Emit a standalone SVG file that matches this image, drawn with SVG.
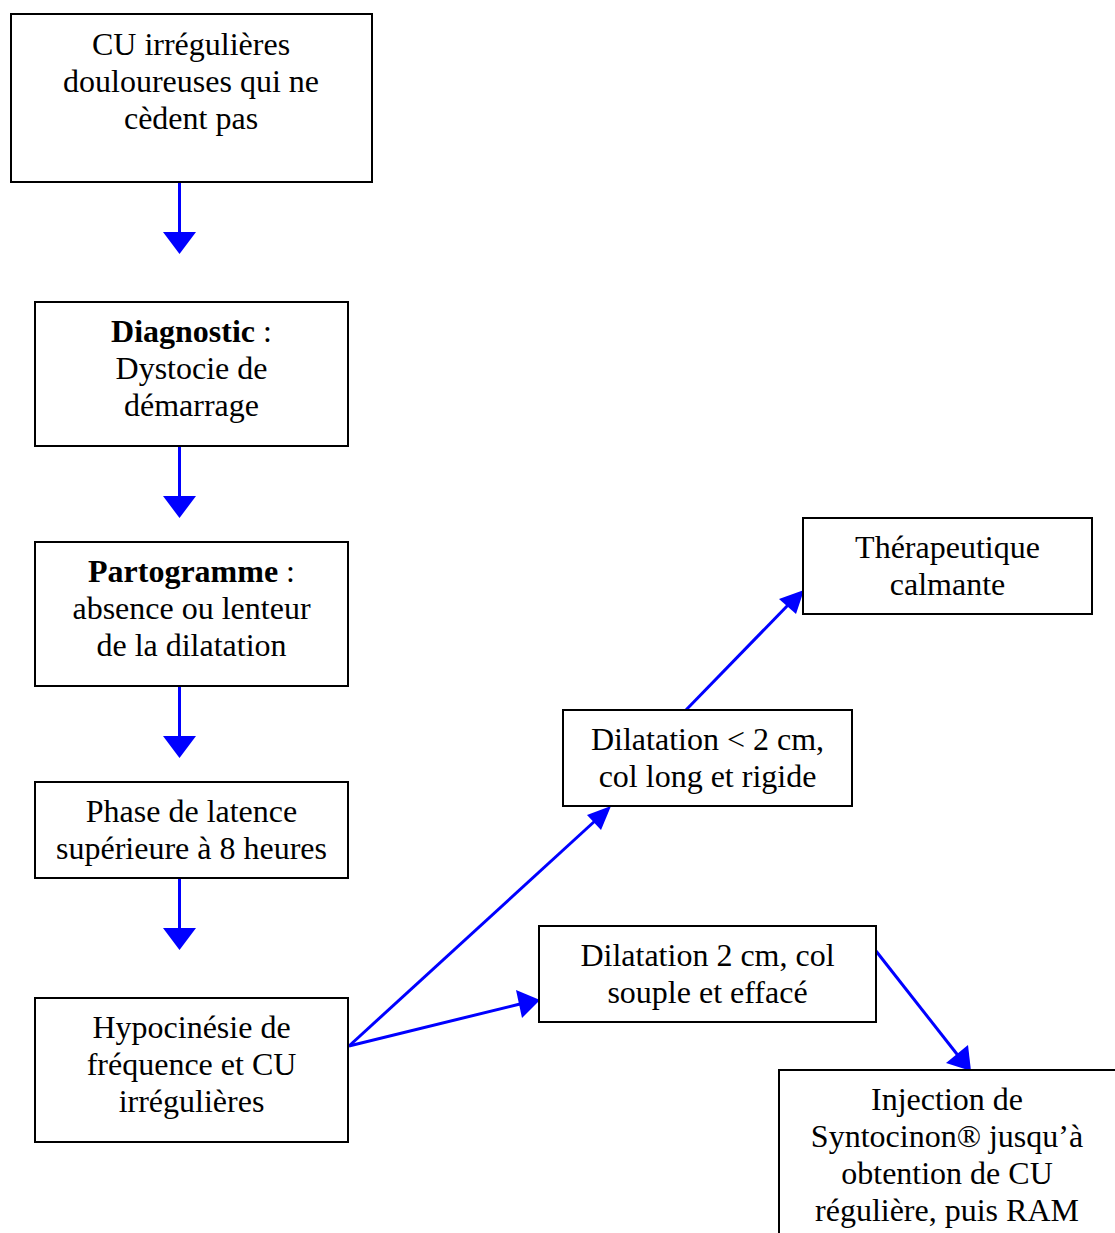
<svg xmlns="http://www.w3.org/2000/svg" width="1115" height="1233" viewBox="0 0 1115 1233">
  <style>
    .box { fill: #fff; stroke: #000; stroke-width: 2; }
    .lbl { font-family: "Liberation Serif", "Times New Roman", serif; font-size: 32px; fill: #000; text-anchor: middle; }
    .b { font-weight: bold; }
    .con { stroke: #0000ff; stroke-width: 3; fill: none; }
    .head { fill: #0000ff; }
  </style>
  <rect width="1115" height="1233" fill="#fff"/>

  <g id="connectors">
    <!-- vertical flow down the left column -->
    <line class="con" x1="179.5" y1="182" x2="179.5" y2="234"/>
    <polygon class="head" points="163,232 196,232 179.5,254"/>
    <line class="con" x1="179.5" y1="446" x2="179.5" y2="498"/>
    <polygon class="head" points="163,496 196,496 179.5,518"/>
    <line class="con" x1="179.5" y1="686" x2="179.5" y2="738"/>
    <polygon class="head" points="163,736 196,736 179.5,758"/>
    <line class="con" x1="179.5" y1="878" x2="179.5" y2="930"/>
    <polygon class="head" points="163,928 196,928 179.5,950"/>
    <!-- branches -->
    <line class="con" x1="349" y1="1046" x2="596" y2="820"/>
    <polygon class="head" points="611,806 601,830 587,815"/>
    <line class="con" x1="349" y1="1046" x2="520" y2="1004"/>
    <polygon class="head" points="540,1000 522,1018 516,990"/>
    <line class="con" x1="685" y1="711" x2="790" y2="603"/>
    <polygon class="head" points="804,590 796,614 779,599"/>
    <line class="con" x1="876" y1="951" x2="960" y2="1058"/>
    <polygon class="head" points="971,1071 946,1063 968,1045"/>
  </g>

  <g id="n1">
    <rect class="box" x="11" y="14" width="361" height="168"/>
    <text class="lbl" x="191" y="55">CU irrégulières</text>
    <text class="lbl" x="191" y="92">douloureuses qui ne</text>
    <text class="lbl" x="191" y="129">cèdent pas</text>
  </g>
  <g id="n2">
    <rect class="box" x="35" y="302" width="313" height="144"/>
    <text class="lbl" x="191.5" y="342"><tspan class="b">Diagnostic</tspan> :</text>
    <text class="lbl" x="191.5" y="379">Dystocie de</text>
    <text class="lbl" x="191.5" y="416">démarrage</text>
  </g>
  <g id="n3">
    <rect class="box" x="35" y="542" width="313" height="144"/>
    <text class="lbl" x="191.5" y="582"><tspan class="b">Partogramme</tspan> :</text>
    <text class="lbl" x="191.5" y="619">absence ou lenteur</text>
    <text class="lbl" x="191.5" y="656">de la dilatation</text>
  </g>
  <g id="n4">
    <rect class="box" x="35" y="782" width="313" height="96"/>
    <text class="lbl" x="191.5" y="822">Phase de latence</text>
    <text class="lbl" x="191.5" y="859">supérieure à 8 heures</text>
  </g>
  <g id="n5">
    <rect class="box" x="35" y="998" width="313" height="144"/>
    <text class="lbl" x="191.5" y="1038">Hypocinésie de</text>
    <text class="lbl" x="191.5" y="1075">fréquence et CU</text>
    <text class="lbl" x="191.5" y="1112">irrégulières</text>
  </g>
  <g id="n6">
    <rect class="box" x="803" y="518" width="289" height="96"/>
    <text class="lbl" x="947.5" y="558">Thérapeutique</text>
    <text class="lbl" x="947.5" y="595">calmante</text>
  </g>
  <g id="n7">
    <rect class="box" x="563" y="710" width="289" height="96"/>
    <text class="lbl" x="707.5" y="750">Dilatation &lt; 2 cm,</text>
    <text class="lbl" x="707.5" y="787">col long et rigide</text>
  </g>
  <g id="n8">
    <rect class="box" x="539" y="926" width="337" height="96"/>
    <text class="lbl" x="707.5" y="966">Dilatation 2 cm, col</text>
    <text class="lbl" x="707.5" y="1003">souple et effacé</text>
  </g>
  <g id="n9">
    <rect class="box" x="779" y="1070" width="340" height="180"/>
    <text class="lbl" x="947" y="1110">Injection de</text>
    <text class="lbl" x="947" y="1147">Syntocinon® jusqu’à</text>
    <text class="lbl" x="947" y="1184">obtention de CU</text>
    <text class="lbl" x="947" y="1221">régulière, puis RAM</text>
  </g>
</svg>
